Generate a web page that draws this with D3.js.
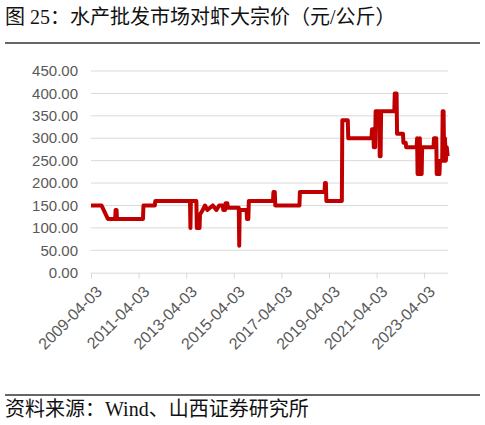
<!DOCTYPE html>
<html><head><meta charset="utf-8">
<script src="https://cdn.jsdelivr.net/npm/d3@7/dist/d3.min.js"></script>
<style>body{margin:0;background:#fff;} svg{display:block;}</style>
</head><body>
<svg id="c" width="485" height="425"></svg>
<script>
const titleText = "图 25：水产批发市场对虾大宗价（元/公斤）";
const sourceText = "资料来源：Wind、山西证券研究所";
const yTicks = [0, 50, 100, 150, 200, 250, 300, 350, 400, 450];
const xTickLabels = ["2009-04-03","2011-04-03","2013-04-03","2015-04-03","2017-04-03","2019-04-03","2021-04-03","2023-04-03"];
const dates = [
"2009-04-03","2009-09-11","2009-12-18","2010-04-09","2010-04-16","2010-04-30","2010-05-07",
"2011-06-10","2011-06-17","2011-12-09","2011-12-16",
"2013-05-31","2013-06-07","2013-06-14","2013-06-28","2013-07-05",
"2013-09-06","2013-09-13","2013-10-25","2013-11-01","2013-12-13","2014-01-17","2014-02-21","2014-04-04","2014-05-16","2014-07-11","2014-08-22","2014-10-17","2014-10-24","2014-11-21","2014-11-28","2014-12-26","2015-01-02",
"2015-06-19","2015-06-26","2015-07-03","2015-10-16","2015-10-23","2015-11-13","2015-11-20",
"2016-11-25","2016-12-02","2016-12-23","2016-12-30",
"2018-01-05","2018-01-12","2019-01-25","2019-02-01","2019-02-15","2019-02-22",
"2019-10-18","2019-10-25","2020-01-17","2020-01-24",
"2021-01-15","2021-01-22","2021-02-12","2021-02-19","2021-03-12","2021-03-19","2021-05-14","2021-05-21","2021-06-04","2021-06-11",
"2021-12-31","2022-01-07","2022-02-04","2022-02-11","2022-05-13","2022-05-20","2022-06-24","2022-07-01",
"2022-12-09","2022-12-16","2022-12-23","2023-01-20","2023-01-27","2023-02-03","2023-02-24","2023-03-03",
"2023-08-25","2023-09-01","2023-10-06","2023-10-13","2023-11-24","2023-12-01","2024-01-05","2024-01-12","2024-01-26","2024-02-02","2024-02-09","2024-02-16","2024-03-01","2024-03-15","2024-03-29"
];
const prices = [
150,150,120,120,140,140,120,
120,150,150,160,
160,100,160,160,160,
160,100,100,130,140,150,140,145,150,140,150,150,140,140,155,155,145,
145,60,140,140,120,120,160,
160,180,180,150,
150,180,180,200,200,160,
160,340,340,300,
300,320,320,280,280,360,360,260,260,360,
360,400,400,310,310,290,290,280,
280,300,220,220,300,220,220,280,
280,300,300,220,220,250,250,360,360,280,250,300,250,280,260
];

const parse = d3.timeParse("%Y-%m-%d");
const data = dates.map((d, i) => ({date: parse(d), value: prices[i]}));

const svg = d3.select("#c");
const mLeft = 91, mRight = 448, mTop = 71, mBottom = 272.7;

const x = d3.scaleTime().domain([parse("2009-04-03"), parse("2024-04-03")]).range([mLeft, mRight]);
const y = d3.scaleLinear().domain([0, 450]).range([mBottom, mTop]);

// title
svg.append("text").attr("x", 5).attr("y", 24)
  .attr("font-family", "'Liberation Serif','Noto Sans CJK SC',serif")
  .attr("font-size", 20).attr("fill", "#111").text(titleText);
svg.append("line").attr("x1", 5).attr("x2", 480).attr("y1", 43).attr("y2", 43)
  .attr("stroke", "#333").attr("stroke-width", 1.5);

// grid
svg.append("g").selectAll("line").data(yTicks.filter(v => v > 0)).join("line")
  .attr("x1", mLeft).attr("x2", mRight)
  .attr("y1", d => y(d)).attr("y2", d => y(d))
  .attr("stroke", "#d9d9d9").attr("stroke-width", 1);

// y labels
svg.append("g").selectAll("text").data(yTicks).join("text")
  .attr("x", 78).attr("y", d => y(d)).attr("dy", "0.35em")
  .attr("text-anchor", "end")
  .attr("font-family", "'Liberation Sans',Arial,sans-serif")
  .attr("font-size", 15).attr("fill", "#595959")
  .text(d => d3.format(".2f")(d));

// x axis
const xAxis = d3.axisBottom(x)
  .tickValues(xTickLabels.map(parse))
  .tickSize(6).tickFormat("");
const gx = svg.append("g").attr("transform", `translate(0,${mBottom})`).call(xAxis);
gx.select(".domain").attr("stroke", "#d9d9d9").attr("d", `M${mLeft},0.5H${mRight}`);
gx.selectAll(".tick line").attr("stroke", "#d9d9d9");

svg.append("g").selectAll("text").data(xTickLabels).join("text")
  .attr("transform", d => `translate(${x(parse(d)) + 8},${mBottom + 16}) rotate(-45)`)
  .attr("text-anchor", "end")
  .attr("dy", "0.35em")
  .attr("font-family", "'Liberation Sans',Arial,sans-serif")
  .attr("font-size", 16).attr("fill", "#595959")
  .text(d => d);

// line
const line = d3.line().x(d => x(d.date)).y(d => y(d.value));
svg.append("path").datum(data).attr("d", line)
  .attr("fill", "none").attr("stroke", "#C00000").attr("stroke-width", 4)
  .attr("stroke-linejoin", "round");

// footer
svg.append("line").attr("x1", 5).attr("x2", 480).attr("y1", 395).attr("y2", 395)
  .attr("stroke", "#333").attr("stroke-width", 1.5);
svg.append("text").attr("x", 5).attr("y", 416)
  .attr("font-family", "'Liberation Serif','Noto Sans CJK SC',serif")
  .attr("font-size", 20).attr("fill", "#111").text(sourceText);
</script>
</body></html>
